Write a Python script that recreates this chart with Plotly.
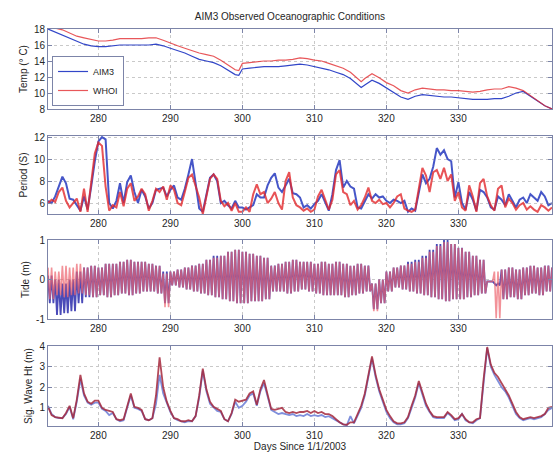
import plotly.graph_objects as go

# ---------------- data ----------------
temp_days = [273, 274, 275, 276, 277, 278, 279, 280, 281, 282, 283, 284, 285, 286, 287, 288,
             289, 290, 291, 292, 293, 294, 295, 296, 297, 298, 299, 299.5, 300, 301, 302, 303,
             304, 305, 306, 307, 308, 309, 310, 311, 312, 313, 314, 315, 316, 316.5, 317, 318,
             319, 320, 321, 322, 323, 324, 325, 326, 327, 328, 329, 330, 331, 332, 333, 334,
             335, 336, 337, 338, 339, 340, 341, 342, 343]
temp_aim3 = [18.0, 17.6, 17.2, 16.8, 16.4, 16.1, 15.9, 15.8, 15.8, 15.9, 16.0, 16.0, 16.0, 16.0, 16.0, 16.1,
             15.9, 15.6, 15.3, 15.0, 14.6, 14.2, 14.0, 13.8, 13.4, 12.8, 12.3, 12.2, 13.0, 13.1, 13.2, 13.3,
             13.3, 13.3, 13.4, 13.5, 13.6, 13.5, 13.3, 13.1, 12.9, 12.6, 12.3, 11.8, 11.0, 10.7, 11.0, 11.6,
             11.2, 10.6, 10.1, 9.5, 9.2, 9.6, 9.8, 9.7, 9.6, 9.5, 9.5, 9.4, 9.3, 9.2, 9.2, 9.2,
             9.3, 9.3, 9.6, 10.0, 10.2, 9.6, 9.0, 8.4, 8.0]
temp_whoi = [18.2, 18.1, 17.9, 17.5, 17.1, 16.9, 16.7, 16.5, 16.5, 16.6, 16.8, 16.8, 16.8, 16.8, 16.9, 16.9,
             16.6, 16.2, 15.9, 15.6, 15.3, 15.0, 14.8, 14.6, 14.1, 13.5, 12.9, 12.8, 13.7, 13.8, 13.9, 14.0,
             14.0, 14.1, 14.1, 14.2, 14.4, 14.3, 14.1, 14.0, 13.7, 13.4, 13.1, 12.6, 11.8, 11.4, 11.8, 12.4,
             11.9, 11.3, 10.9, 10.3, 10.0, 10.4, 10.6, 10.5, 10.4, 10.4, 10.3, 10.3, 10.2, 10.1, 10.2, 10.4,
             10.5, 10.5, 10.8, 10.6, 10.3, 9.7, 9.0, 8.4, 8.0]

# half-day samples from day 273 to 343
half_days = [273 + 0.5 * i for i in range(141)]
period_aim3 = [6.2, 6.0, 6.6, 7.6, 8.4, 7.8, 6.4, 6.3, 5.8, 5.3, 6.6, 5.4, 7.5, 9.8, 11.6, 12.0,
               11.8, 6.0, 5.5, 6.2, 7.8, 6.0, 7.9, 8.5, 7.0, 6.0, 7.2, 6.6, 5.5, 6.0, 7.2, 7.3,
               7.4, 6.6, 7.2, 7.6, 6.5, 6.3, 7.3, 8.6, 10.0, 7.8, 5.5, 5.2, 6.8, 8.3, 8.6, 8.0,
               6.0, 6.2, 5.8, 5.5, 6.2, 5.6, 5.6, 5.4, 5.6, 5.8, 6.8, 6.5, 6.5, 7.6, 8.3, 8.7,
               7.4, 7.0, 7.6, 8.2, 6.9, 6.8, 6.5, 5.6, 5.8, 5.5, 5.9, 6.2, 6.8, 6.0, 5.3, 6.8,
               9.0, 9.9, 7.4, 8.0, 7.5, 7.3, 5.6, 5.5, 6.2, 6.8, 6.4, 6.8, 6.5, 6.6, 6.2, 6.0,
               6.3, 6.2, 6.0, 6.2, 5.2, 5.5, 5.3, 6.8, 8.6, 7.8, 8.2, 9.3, 11.0, 10.4, 10.8, 10.0,
               9.8, 6.5, 7.9, 6.0, 5.4, 7.0, 6.3, 5.3, 7.2, 7.0, 6.5, 5.6, 5.4, 6.6, 6.3, 5.8,
               6.8, 6.2, 5.6, 6.3, 6.5, 6.0, 6.8, 6.5, 6.2, 7.0, 6.6, 5.8, 6.0]
period_whoi = [6.0, 6.3, 6.1, 7.0, 7.4, 6.2, 5.6, 6.0, 6.4, 5.2, 7.3, 5.2, 8.0, 10.5, 11.5, 11.2,
               7.5, 5.3, 5.8, 5.6, 7.0, 5.7, 7.3, 7.8, 6.2, 6.6, 7.3, 6.8, 5.3, 6.2, 7.3, 7.0,
               7.5, 6.3, 7.6, 7.2, 6.0, 5.8, 7.0, 8.3, 8.6, 7.5, 6.5, 5.0, 6.5, 8.2, 8.6, 8.2,
               6.2, 5.7, 6.0, 5.3, 6.0, 5.2, 5.2, 5.6, 5.2, 6.8, 7.7, 6.8, 7.0, 6.0, 6.4, 7.0,
               6.0, 5.4, 8.0, 8.8, 6.5, 5.8, 5.6, 5.3, 5.5, 5.2, 5.4, 6.6, 7.2, 6.2, 5.4, 6.3,
               8.6, 9.0, 7.0, 6.8, 5.8, 6.2, 5.4, 5.8, 6.5, 7.4, 6.2, 6.0, 6.3, 5.9, 6.0, 5.6,
               6.0, 6.6, 6.8, 5.5, 5.3, 5.2, 5.4, 7.3, 9.2, 8.5, 7.0, 8.8, 9.0, 8.2, 9.2, 8.0,
               8.6, 6.2, 7.0, 5.6, 5.3, 7.6, 6.6, 5.2, 7.8, 8.2, 6.6, 5.8, 5.3, 7.3, 7.6, 5.6,
               6.4, 6.0, 5.4, 5.8, 6.0, 5.4, 5.7, 5.4, 5.2, 5.8, 5.6, 5.3, 5.6]
wave_aim3 = [1.1, 0.7, 0.55, 0.5, 0.5, 0.7, 1.05, 0.45, 1.3, 2.4, 1.6, 1.25, 1.15, 1.25, 1.25, 0.95,
             0.85, 0.65, 0.75, 0.45, 0.35, 0.4, 1.0, 1.6, 1.0, 0.95, 0.85, 0.45, 0.4, 0.5, 1.2, 2.6,
             1.7, 1.2, 0.8, 0.5, 0.4, 0.35, 0.3, 0.35, 0.35, 0.6, 1.5, 2.8, 1.8, 1.2, 1.0, 0.85,
             0.8, 0.45, 0.35, 0.7, 1.3, 1.0, 1.1, 1.3, 1.6, 1.7, 1.1, 1.8, 2.2, 1.6, 0.9, 0.8,
             0.7, 0.75, 0.7, 0.65, 0.7, 0.6, 0.65, 0.6, 0.7, 0.6, 0.65, 0.6, 0.65, 0.55, 0.6, 0.5,
             0.4, 0.3, 0.2, 0.15, 0.6, 0.25, 0.6, 1.0, 1.6, 2.5, 3.4, 2.5, 1.8, 1.3, 0.8, 0.5,
             0.3, 0.2, 0.2, 0.25, 0.5, 1.0, 1.5, 2.2, 1.6, 1.1, 0.8, 0.55, 0.5, 0.5, 0.5, 0.75,
             0.6, 0.4, 0.45, 0.7, 0.4, 0.3, 0.25, 0.4, 0.5, 2.2, 3.9, 3.0, 2.6, 2.3, 2.0, 1.8,
             1.5, 1.1, 0.7, 0.5, 0.4, 0.45, 0.5, 0.45, 0.5, 0.55, 0.7, 0.9, 1.0]
wave_whoi = [1.05, 0.65, 0.55, 0.52, 0.5, 0.75, 1.1, 0.5, 1.4, 2.6, 1.7, 1.3, 1.2, 1.35, 1.35, 1.0,
             0.9, 0.85, 0.8, 0.45, 0.4, 0.45, 1.1, 1.7, 1.05, 1.0, 0.9, 0.45, 0.4, 0.5, 1.6, 3.45,
             2.0, 1.3, 0.85, 0.5, 0.45, 0.35, 0.35, 0.4, 0.35, 0.6, 1.6, 2.9, 1.9, 1.3, 1.05, 0.95,
             0.85, 0.45, 0.35, 0.75, 1.4, 1.3, 1.35, 1.4, 1.7, 1.8, 1.15, 1.9, 2.35, 1.7, 0.95, 0.9,
             0.95, 1.0, 0.8, 0.75, 0.8, 0.75, 0.8, 0.8, 0.85, 0.75, 0.85, 0.75, 0.8, 0.7, 0.7, 0.6,
             0.45, 0.3, 0.2, 0.18, 0.3, 0.3, 0.7, 1.1, 1.7, 2.6, 3.5, 2.6, 1.9, 1.4, 0.9, 0.6,
             0.35, 0.25, 0.25, 0.3, 0.55, 1.1, 1.6, 2.3, 1.8, 1.2, 0.85, 0.6, 0.55, 0.55, 0.55, 0.8,
             0.65, 0.45, 0.5, 0.7, 0.45, 0.3, 0.3, 0.45, 0.5, 2.4, 3.95, 3.1, 2.7, 2.5, 2.2, 1.9,
             1.6, 1.2, 0.8, 0.55, 0.45, 0.5, 0.55, 0.5, 0.55, 0.6, 0.7, 1.0, 1.05]

# tide: daily high / low envelope of the semi-diurnal signal
tide_days = list(range(273, 344))
tide_whoi_hi = [0.3, 0.2, 0.35, 0.3, 0.4, 0.3, 0.35, 0.3, 0.4, 0.4, 0.45, 0.5, 0.45, 0.45, 0.4, 0.35,
                0.15, 0.2, 0.25, 0.3, 0.35, 0.4, 0.5, 0.55, 0.6, 0.7, 0.75, 0.7, 0.65, 0.6, 0.55, 0.35,
                0.4, 0.45, 0.5, 0.45, 0.45, 0.4, 0.45, 0.4, 0.45, 0.4, 0.35, 0.4, 0.35, -0.1, 0.0, 0.2,
                0.3, 0.35, 0.4, 0.45, 0.55, 0.7, 0.85, 0.95, 0.9, 0.8, 0.7, 0.6, 0.5, -0.05, 0.2, 0.25,
                0.3, 0.25, 0.3, 0.35, 0.3, 0.35, 0.3]
tide_whoi_lo = [-0.5, -0.4, -0.45, -0.4, -0.35, -0.4, -0.45, -0.4, -0.45, -0.4, -0.35, -0.4, -0.35, -0.3, -0.3, -0.35,
                -0.7, -0.15, -0.2, -0.25, -0.3, -0.35, -0.4, -0.45, -0.5, -0.55, -0.6, -0.6, -0.55, -0.55, -0.5, -0.3,
                -0.3, -0.35, -0.3, -0.25, -0.3, -0.35, -0.4, -0.4, -0.4, -0.45, -0.4, -0.35, -0.3, -0.8, -0.6, -0.3,
                -0.2, -0.25, -0.3, -0.35, -0.4, -0.45, -0.5, -0.55, -0.5, -0.5, -0.45, -0.4, -0.35, -0.05, -0.98, -0.5,
                -0.45, -0.5, -0.4, -0.35, -0.4, -0.3, -0.3]
tide_aim3_hi = [0.1, 0.0, -0.1, 0.0, 0.2, 0.3, 0.35, 0.3, 0.4, 0.4, 0.45, 0.5, 0.45, 0.45, 0.4, 0.35,
                0.2, 0.2, 0.25, 0.3, 0.35, 0.4, 0.5, 0.6, 0.6, 0.7, 0.75, 0.7, 0.65, 0.6, 0.55, 0.35,
                0.4, 0.45, 0.5, 0.45, 0.45, 0.4, 0.45, 0.4, 0.45, 0.4, 0.35, 0.4, 0.35, -0.1, 0.0, 0.2,
                0.3, 0.35, 0.45, 0.5, 0.6, 0.75, 0.9, 1.0, 0.9, 0.8, 0.7, 0.6, 0.5, -0.05, -0.1, 0.25,
                0.3, 0.25, 0.3, 0.35, 0.3, 0.35, 0.3]
tide_aim3_lo = [-0.6, -0.9, -0.85, -0.8, -0.6, -0.45, -0.45, -0.4, -0.45, -0.4, -0.35, -0.4, -0.35, -0.3, -0.3, -0.35,
                -0.6, -0.15, -0.2, -0.25, -0.3, -0.35, -0.4, -0.45, -0.5, -0.55, -0.6, -0.6, -0.55, -0.55, -0.5, -0.3,
                -0.3, -0.35, -0.3, -0.25, -0.3, -0.35, -0.4, -0.4, -0.4, -0.45, -0.4, -0.35, -0.3, -0.75, -0.6, -0.3,
                -0.2, -0.25, -0.3, -0.35, -0.4, -0.45, -0.5, -0.55, -0.5, -0.5, -0.45, -0.4, -0.35, -0.05, -0.15, -0.5,
                -0.45, -0.5, -0.4, -0.35, -0.4, -0.3, -0.3]

x_ticks = [280, 290, 300, 310, 320, 330]
BLUE = "#3246c8"
RED = "rgba(226,40,44,0.78)"
AXC = "#7c84a8"
TXT = "#262626"
FONT = "Liberation Sans, Arial, sans-serif"


def zigzag(days, hi, lo):
    xs, ys = [], []
    for d, h, l in zip(days, hi, lo):
        xs += [d, d + 0.25, d + 0.5, d + 0.75]
        ys += [h, l, h, l]
    return xs, ys


fig = go.Figure()
# Temperature
fig.add_trace(go.Scatter(x=temp_days, y=temp_aim3, name="AIM3", mode="lines",
                         line=dict(color=BLUE, width=1.2), xaxis="x", yaxis="y"))
fig.add_trace(go.Scatter(x=temp_days, y=temp_whoi, name="WHOI", mode="lines",
                         line=dict(color=RED, width=1.2), xaxis="x", yaxis="y"))
# Period
fig.add_trace(go.Scatter(x=half_days, y=period_aim3, mode="lines", showlegend=False,
                         line=dict(color="#4656c8", width=2.0), xaxis="x2", yaxis="y2"))
fig.add_trace(go.Scatter(x=half_days, y=period_whoi, mode="lines", showlegend=False,
                         line=dict(color="rgba(226,40,44,0.8)", width=2.0), xaxis="x2", yaxis="y2"))
# Tide
tx_a, ty_a = zigzag(tide_days, tide_aim3_hi, tide_aim3_lo)
tx_w, ty_w = zigzag(tide_days, tide_whoi_hi, tide_whoi_lo)
fig.add_trace(go.Scatter(x=tx_a, y=ty_a, mode="lines", showlegend=False,
                         line=dict(color="#4a4ab8", width=1.8), xaxis="x3", yaxis="y3"))
fig.add_trace(go.Scatter(x=tx_w, y=ty_w, mode="lines", showlegend=False,
                         line=dict(color="rgba(236,100,110,0.7)", width=1.6), xaxis="x3", yaxis="y3"))
# Wave height
fig.add_trace(go.Scatter(x=half_days, y=wave_aim3, mode="lines", showlegend=False,
                         line=dict(color="#7f8fdc", width=1.8), xaxis="x4", yaxis="y4"))
fig.add_trace(go.Scatter(x=half_days, y=wave_whoi, mode="lines", showlegend=False,
                         line=dict(color="rgba(165,40,60,0.85)", width=1.8), xaxis="x4", yaxis="y4"))

domains = [[0.7985, 1.0], [0.534, 0.7305], [0.2695, 0.4685], [0.0, 0.2015]]
yranges = [[8, 18], [5, 12.1], [-1, 1], [0.12, 4.0]]
yticks = [[8, 10, 12, 14, 16, 18], [6, 8, 10, 12], [-1, 0, 1], [1, 2, 3, 4]]
ytext = [None, None, ["-1", "0", "1"], None]
ytitles = ["Temp (° C)", "Period (S)", "Tide (m)", "Sig. Wave Ht (m)"]

common = dict(showline=True, linecolor=AXC, linewidth=1, mirror="ticks", ticks="inside",
              ticklen=4, tickcolor=AXC, showgrid=True, gridcolor="#c9c9c9", griddash="dot",
              gridwidth=1, zeroline=False, tickfont=dict(size=10, color=TXT, family=FONT))

layout = dict(width=554, height=458, margin=dict(l=48, r=2, t=29, b=32),
              paper_bgcolor="white", plot_bgcolor="white",
              font=dict(family=FONT, size=10, color=TXT),
              title=dict(text="AIM3 Observed Oceanographic Conditions", x=0.48, xanchor="center",
                         xref="paper", y=0.965, yanchor="middle", font=dict(size=10, color=TXT)),
              legend=dict(x=0.008, y=0.932, xanchor="left", yanchor="top", bgcolor="white",
                          bordercolor=AXC, borderwidth=1, font=dict(size=9, color=TXT),
                          tracegroupgap=0, itemwidth=30),
              showlegend=True)
for i in range(4):
    sx = "" if i == 0 else str(i + 1)
    xa = dict(common, range=[273, 343], tickvals=x_ticks, anchor="y" + sx,
              domain=[0, 1])
    if i == 3:
        xa["title"] = dict(text="Days Since 1/1/2003", font=dict(size=10, color=TXT), standoff=2)
    ya = dict(common, range=yranges[i], tickvals=yticks[i], anchor="x" + sx, domain=domains[i],
              title=dict(text=ytitles[i], font=dict(size=10, color=TXT), standoff=4))
    if ytext[i]:
        ya["ticktext"] = ytext[i]
    layout["xaxis" + sx] = xa
    layout["yaxis" + sx] = ya

fig.update_layout(**layout)
fig.write_html("out.html")
